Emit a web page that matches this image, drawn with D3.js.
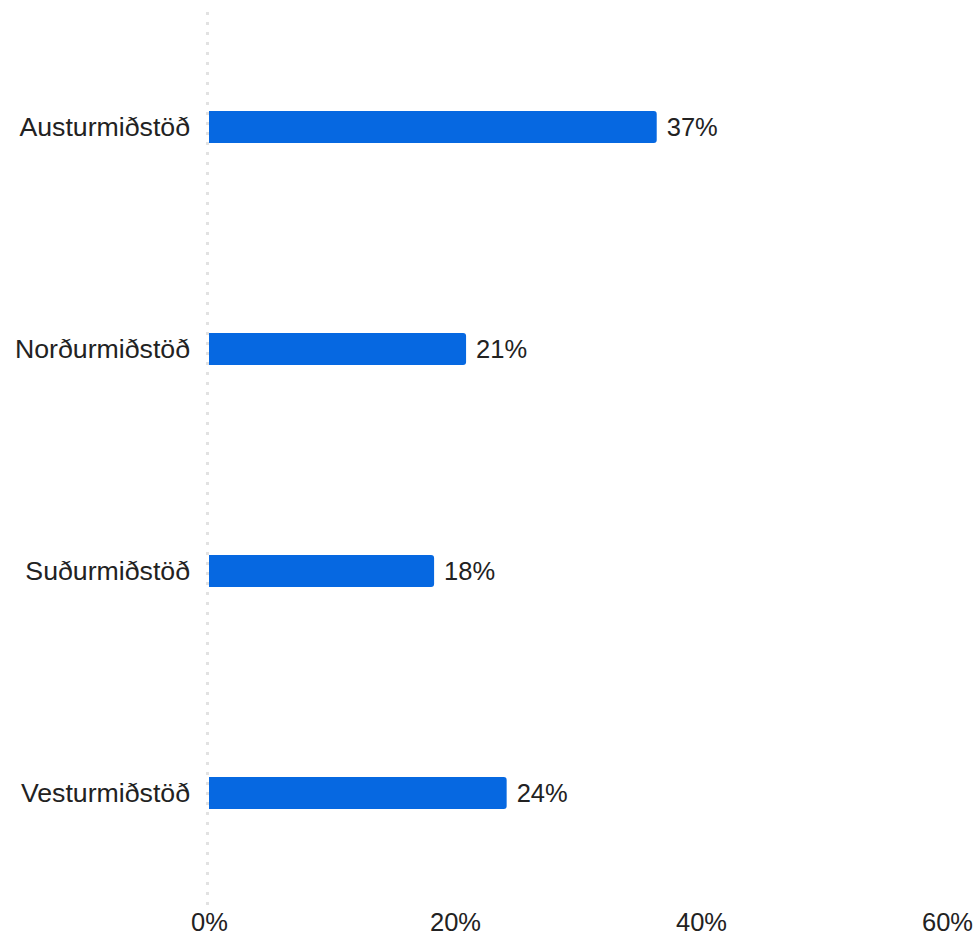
<!DOCTYPE html>
<html><head><meta charset="utf-8">
<script src="https://cdn.jsdelivr.net/npm/d3@7"></script>
<style>body{margin:0;background:#fff}svg{display:block}text{font-family:"Liberation Sans",Arial,sans-serif;fill:#222}</style>
</head><body><svg id="c" width="976" height="935"></svg>
<script>
const categories = ["Austurmiðstöð","Norðurmiðstöð","Suðurmiðstöð","Vesturmiðstöð"];
const values = [36.4, 20.9, 18.3, 24.2];
const valueLabels = ["37%","21%","18%","24%"];
const tickValues = [0,20,40,60];

const svg = d3.select("#c");
const x = d3.scaleLinear().domain([0,60]).range([209,947]);
const y = d3.scaleBand().domain(categories).range([16,904]);
const barH = 32;
const fs = 25.5;

svg.append("line").attr("x1",x(0)-1.5).attr("x2",x(0)-1.5).attr("y1",12).attr("y2",906)
  .attr("stroke","#e2e2e2").attr("stroke-width",3).attr("stroke-dasharray","3,7");

svg.selectAll("path.bar").data(categories).enter().append("path").attr("class","bar")
  .attr("fill","#0668E1")
  .attr("d",(c,i)=>{
    const x0=x(0), x1=x(values[i]), yc=y(c)+y.bandwidth()/2, y0=yc-barH/2, y1=yc+barH/2, r=3;
    return `M${x0},${y0}H${x1-r}Q${x1},${y0} ${x1},${y0+r}V${y1-r}Q${x1},${y1} ${x1-r},${y1}H${x0}Z`;
  });

svg.selectAll("text.val").data(categories).enter().append("text").attr("class","val")
  .attr("x",(c,i)=>x(values[i])+10).attr("y",c=>y(c)+y.bandwidth()/2).attr("dy","0.35em")
  .attr("font-size",fs).text((c,i)=>valueLabels[i]);

svg.selectAll("text.cat").data(categories).enter().append("text").attr("class","cat")
  .attr("x",190).attr("y",c=>y(c)+y.bandwidth()/2).attr("dy","0.35em")
  .attr("text-anchor","end").attr("font-size",26.7).text(c=>c);

const ax = svg.append("g").attr("transform","translate(0,931)")
  .call(d3.axisBottom(x).tickValues(tickValues).tickFormat(d=>d+"%").tickSize(0).tickPadding(0));
ax.select(".domain").remove();
ax.selectAll("text").attr("font-size",fs).attr("fill","#222").attr("dy","0")
  .style("font-family","'Liberation Sans',Arial,sans-serif");
</script></body></html>
